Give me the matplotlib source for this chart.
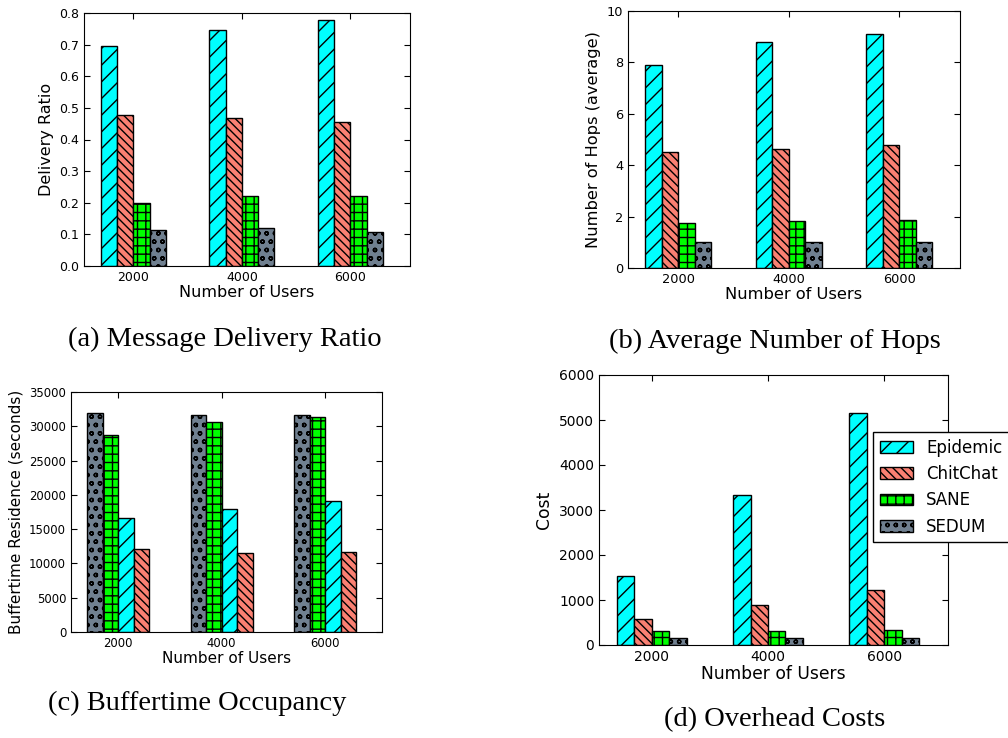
import numpy as np
import matplotlib
matplotlib.use("Agg")
import matplotlib.pyplot as plt

# ── Data ──────────────────────────────────────────────────────────────────────
users = ["2000", "4000", "6000"]

ratio_epidemic = [0.695, 0.745, 0.777]
ratio_chitchat = [0.478, 0.467, 0.455]
ratio_sane     = [0.198, 0.221, 0.221]
ratio_sedum    = [0.113, 0.119, 0.108]

hops_epidemic = [7.9, 8.8, 9.1]
hops_chitchat = [4.5, 4.62, 4.78]
hops_sane     = [1.75, 1.83, 1.88]
hops_sedum    = [1.0, 1.0, 1.0]

buf_sedum    = [32000, 31600, 31700]
buf_sane     = [28700, 30600, 31400]
buf_epidemic = [16600, 18000, 19100]
buf_chitchat = [12100, 11500, 11700]

cost_epidemic = [1530, 3330, 5150]
cost_chitchat = [570, 900, 1220]
cost_sane     = [320, 320, 330]
cost_sedum    = [150, 150, 150]

# ── Styles per protocol ───────────────────────────────────────────────────────
STYLE = {
    "Epidemic": dict(color="#00FFFF", hatch="//"),
    "ChitChat": dict(color="#FA8072", hatch="\\\\\\\\"),
    "SANE":     dict(color="#00FF00", hatch="++"),
    "SEDUM":    dict(color="#708090", hatch="oo"),
}

W, H = 1008, 738
WIDTH = 0.15
ind = np.arange(len(users))

fig = plt.figure(figsize=(W/100, H/100), dpi=100)

def make_ax(left, right, top, bottom):
    return fig.add_axes([left/W, 1-bottom/H, (right-left)/W, (bottom-top)/H])

def bar_panel(ax, series, ylabel, ylim, yticks, tick_fs, label_fs):
    for i, (name, vals) in enumerate(series):
        st = STYLE[name]
        ax.bar(ind + i*WIDTH, vals, WIDTH, align="edge", color=st["color"],
               hatch=st["hatch"], edgecolor="black", linewidth=1.0, label=name)
    ax.set_xlim(-0.155, 2.85)
    ax.set_ylim(*ylim)
    ax.set_yticks(yticks)
    ax.set_xticks(ind + 2*WIDTH)
    ax.set_xticklabels(users)
    ax.tick_params(direction="in", top=True, right=True, length=4, labelsize=tick_fs)
    ax.set_xlabel("Number of Users", fontsize=label_fs, labelpad=1)
    ax.set_ylabel(ylabel, fontsize=label_fs)

# (a) delivery ratio
ax_a = make_ax(84, 410, 13, 266)
bar_panel(ax_a, [("Epidemic", ratio_epidemic), ("ChitChat", ratio_chitchat),
                 ("SANE", ratio_sane), ("SEDUM", ratio_sedum)],
          "Delivery Ratio", (0, 0.8), np.arange(0, 0.81, 0.1), 9, 11.5)
ax_a.set_yticklabels([f"{v:.1f}" for v in np.arange(0, 0.81, 0.1)])

# (b) hops
ax_b = make_ax(628, 960, 11, 268)
bar_panel(ax_b, [("Epidemic", hops_epidemic), ("ChitChat", hops_chitchat),
                 ("SANE", hops_sane), ("SEDUM", hops_sedum)],
          "Number of Hops (average)", (0, 10), range(0, 11, 2), 9.3, 11.7)

# (c) buffer residence
ax_c = make_ax(71, 382, 392, 632)
bar_panel(ax_c, [("SEDUM", buf_sedum), ("SANE", buf_sane),
                 ("Epidemic", buf_epidemic), ("ChitChat", buf_chitchat)],
          "Buffertime Residence (seconds)", (0, 35000), range(0, 35001, 5000), 8.4, 11)

# (d) overhead
ax_d = make_ax(599, 948, 375, 645)
bar_panel(ax_d, [("Epidemic", cost_epidemic), ("ChitChat", cost_chitchat),
                 ("SANE", cost_sane), ("SEDUM", cost_sedum)],
          "Cost", (0, 6000), range(0, 6001, 1000), 10, 12.3)
ax_d.legend(loc="upper left", bbox_to_anchor=(873/W, 1-432/H),
            bbox_transform=fig.transFigure, borderaxespad=0, fontsize=12,
            fancybox=False, edgecolor="black", framealpha=1)

# sub-figure captions
cap = dict(family="Liberation Serif", fontsize=20.5, ha="center", va="center")
fig.text(225/W, 1-339/H, "(a) Message Delivery Ratio", **cap)
fig.text(775/W, 1-341/H, "(b) Average Number of Hops", **cap)
fig.text(197/W, 1-703/H, "(c) Buffertime Occupancy", **cap)
fig.text(775/W, 1-720/H, "(d) Overhead Costs", **cap)

fig.savefig("out.png", dpi=100)
